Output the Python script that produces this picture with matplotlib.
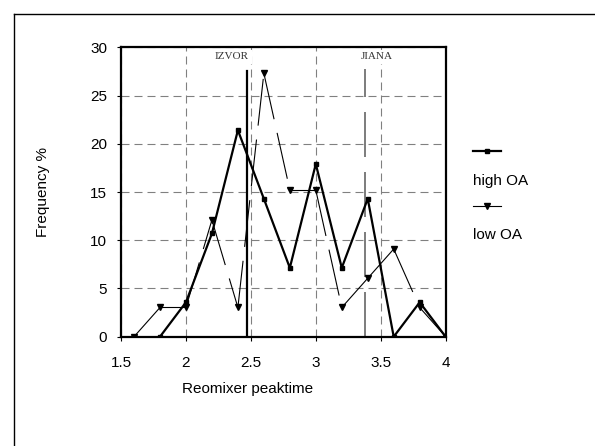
import matplotlib.pyplot as plt
from matplotlib.lines import Line2D

# frequency distribution of reomixer peak time
high_x = [1.8, 2.0, 2.2, 2.4, 2.6, 2.8, 3.0, 3.2, 3.4, 3.6, 3.8, 4.0]
high_y = [0, 3.57, 10.7, 21.4, 14.3, 7.14, 17.9, 7.14, 14.3, 0, 3.57, 0]

low_x = [1.6, 1.8, 2.0, 2.2, 2.4, 2.6, 2.8, 3.0, 3.2, 3.4, 3.6, 3.8, 4.0]
low_y = [0, 3.03, 3.03, 12.1, 3.03, 27.3, 15.2, 15.2, 3.03, 6.06, 9.09, 3.03, 0]

# reference markers
izvor_x, izvor_top = 2.47, 27.5
jiana_x, jiana_top = 3.38, 27.8

plt.rcParams['font.family'] = ['Liberation Sans', 'DejaVu Sans']
plt.rcParams['lines.scale_dashes'] = False
px = 72 / 100  # points per pixel

fig = plt.figure(figsize=(5.95, 4.46), dpi=100)
ax = fig.add_axes([0.2034, 0.245, 0.5456, 0.649])

# low OA: thin long-dash line, dash pattern restarts on each segment (Excel style)
for i in range(len(low_x) - 1):
    ax.plot(low_x[i:i + 2], low_y[i:i + 2], color='black', lw=0.8,
            linestyle=(0, (47 * px, 14 * px)), zorder=3)
ax.plot(low_x, low_y, linestyle='none', marker='v', ms=5, color='black', zorder=4)

# high OA: thick solid line
ax.plot(high_x, high_y, color='black', lw=1.6, marker='s', ms=3, zorder=5)

ax.plot([izvor_x, izvor_x], [0, izvor_top], color='black', lw=1.6, zorder=6)
ax.plot([jiana_x, jiana_x], [0, jiana_top], color='#666666', lw=1.2,
        linestyle=(0, (45 * px, 15 * px)), zorder=2)

ax.text(2.354, 29.0, 'IZVOR', family=['Liberation Serif', 'DejaVu Serif'], fontsize=8,
        color='#333333', ha='center', va='center',
        bbox=dict(fc='white', ec='none', pad=2), zorder=2.5)
ax.text(3.471, 29.0, 'JIANA', family=['Liberation Serif', 'DejaVu Serif'], fontsize=8,
        color='#333333', ha='center', va='center',
        bbox=dict(fc='white', ec='none', pad=2), zorder=2.5)

ax.set_xlim(1.5, 4)
ax.set_ylim(0, 30)
ax.set_xticks([1.5, 2, 2.5, 3, 3.5, 4])
ax.set_xticklabels(['1.5', '2', '2.5', '3', '3.5', '4'])
ax.set_yticks([0, 5, 10, 15, 20, 25, 30])
ax.grid(True, color='#808080', linestyle=(0, (8 * px, 5 * px)), lw=0.8)
ax.set_axisbelow(True)
for s in ax.spines.values():
    s.set_linewidth(1.6)
ax.tick_params(axis='both', direction='out', length=3, width=0.8, labelsize=11)
ax.tick_params(axis='x', pad=11)
ax.tick_params(axis='y', pad=7)

ax.set_xlabel('Reomixer peaktime', fontsize=11)
ax.xaxis.set_label_coords(0.39, -0.155)
ax.set_ylabel('Frequency %', fontsize=11)
ax.yaxis.set_label_coords(-0.219, 0.5)

# legend drawn by hand: handle above its label
W, H = 595, 446
fig.add_artist(Line2D([473 / W, 487 / W, 501 / W], [1 - 151 / H] * 3, color='black',
                      lw=1.6, marker='s', ms=3, markevery=[1]))
fig.text(473 / W, 1 - 181 / H, 'high OA', va='center', fontsize=11)
fig.add_artist(Line2D([473 / W, 487 / W, 501 / W], [1 - 206 / H] * 3, color='black',
                      lw=0.8, marker='v', ms=5, markevery=[1]))
fig.text(473 / W, 1 - 235 / H, 'low OA', va='center', fontsize=11)

# outer frame (left and top edges visible)
fig.add_artist(Line2D([13.5 / W, 13.5 / W], [0, 1 - 14 / H], color='black', lw=1))
fig.add_artist(Line2D([13.5 / W, 1], [1 - 14 / H, 1 - 14 / H], color='black', lw=1))

fig.savefig('out.png', dpi=100)
